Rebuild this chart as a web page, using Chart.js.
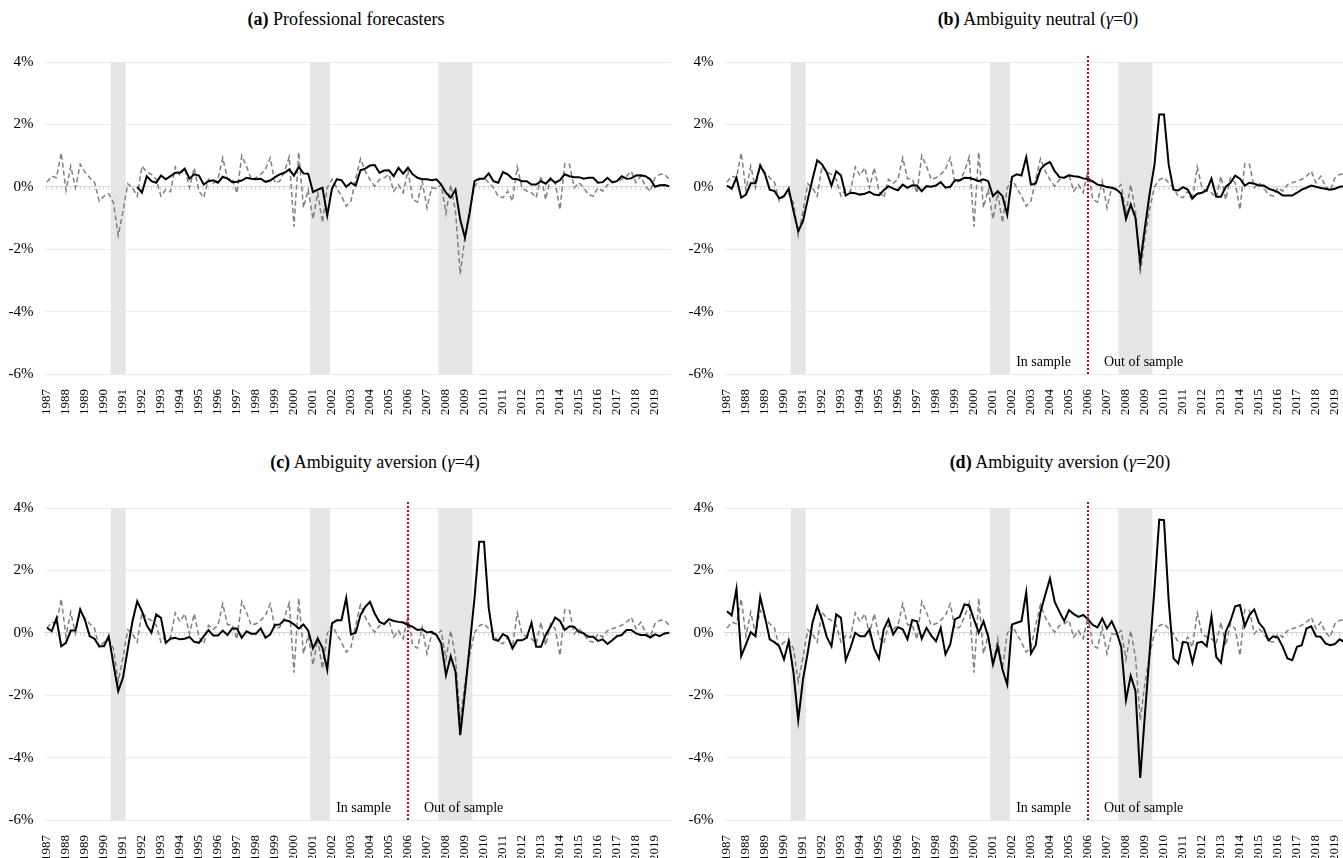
<!DOCTYPE html>
<html>
<head>
<meta charset="utf-8">
<script src="https://cdn.jsdelivr.net/npm/chart.js@4.4.1/dist/chart.umd.min.js"></script>
<style>
  body { margin: 0; width: 1343px; height: 858px; overflow: hidden; background: #fff; position: relative;
         font-family: 'Liberation Serif', 'Times New Roman', serif; }
  .title { position: absolute; width: 400px; text-align: center; font-size: 18px; color: #000; white-space: nowrap; }
  canvas { position: absolute; }
</style>
</head>
<body>
<div class="title" style="left:146px; top:9px"><b>(a)</b> Professional forecasters</div>
<div class="title" style="left:838px; top:9px"><b>(b)</b> Ambiguity neutral (<i>γ</i>=0)</div>
<div class="title" style="left:175px; top:452px"><b>(c)</b> Ambiguity aversion (<i>γ</i>=4)</div>
<div class="title" style="left:860px; top:452px"><b>(d)</b> Ambiguity aversion (<i>γ</i>=20)</div>
<canvas id="chartA" width="680" height="430" style="left:0; top:0"></canvas>
<canvas id="chartB" width="680" height="430" style="left:680px; top:0"></canvas>
<canvas id="chartC" width="680" height="430" style="left:0; top:446px"></canvas>
<canvas id="chartD" width="680" height="430" style="left:680px; top:446px"></canvas>
<script>
// tick labels: one per year, quarterly data 1987Q1 - 2019Q4
const years = ['1987', '1988', '1989', '1990', '1991', '1992', '1993', '1994', '1995', '1996', '1997',
  '1998', '1999', '2000', '2001', '2002', '2003', '2004', '2005', '2006', '2007', '2008', '2009',
  '2010', '2011', '2012', '2013', '2014', '2015', '2016', '2017', '2018', '2019'];
const quarters = years.flatMap(y => ['Q1', 'Q2', 'Q3', 'Q4'].map(q => y + ' ' + q));

// recessions (shaded), first and last quarter
const recessions = [['1990 Q3', '1991 Q1'], ['2001 Q1', '2001 Q4'], ['2007 Q4', '2009 Q2']];
const splitQuarter = '2006 Q1';

// realised growth (dashed, same in every panel), % per quarter
const realised = [0.15, 0.34, 0.29, 1.09, -0.11, 0.66, -0.03, 0.72, 0.47, 0.29, 0.15, -0.46,
  -0.30, -0.22, -0.51, -1.56, -0.80, 0.10, -0.03, -0.30, 0.66, 0.47, 0.40, 0.24,
  -0.30, -0.09, -0.16, 0.64, 0.36, 0.61, -0.03, 0.61, -0.14, -0.35, 0.24, 0.11,
  0.24, 0.93, 0.26, 0.26, -0.21, 1.00, 0.66, 0.24, 0.29, 0.40, 0.56, 0.93,
  0.13, 0.18, 0.50, 0.96, -1.28, 1.11, -0.67, -0.09, -1.03, -0.19, -1.15, -0.03,
  0.24, -0.03, -0.30, -0.62, -0.46, 0.25, 0.90, 0.50, 0.23, 0.02, 0.23, 0.29,
  0.40, -0.14, 0.07, -0.19, 0.53, -0.41, -0.49, 0.18, -0.67, -0.03, -0.06, 0.07,
  -0.85, 0.07, -0.78, -2.80, -1.60, -0.70, 0.00, 0.23, 0.29, 0.13, -0.03, -0.30,
  -0.35, -0.14, -0.46, 0.64, -0.03, -0.14, -0.19, -0.35, 0.34, -0.41, 0.29, 0.13,
  -0.73, 0.74, 0.72, -0.03, 0.13, -0.03, -0.25, -0.30, -0.03, -0.14, 0.07, 0.13,
  0.18, 0.24, 0.34, 0.50, 0.13, 0.34, 0.02, -0.14, 0.29, 0.40, 0.40, 0.24];

// (a) professional forecasters
const spf = [null, null, null, null, null, null, null, null, null, null, null, null,
  null, null, null, null, null, null, null, 0.00, -0.19, 0.34, 0.18, 0.13,
  0.36, 0.24, 0.34, 0.45, 0.45, 0.58, 0.26, 0.40, 0.36, 0.07, 0.18, 0.21,
  0.13, 0.32, 0.26, 0.15, 0.16, 0.20, 0.29, 0.26, 0.24, 0.26, 0.16, 0.20,
  0.31, 0.40, 0.45, 0.56, 0.36, 0.64, 0.43, 0.42, -0.17, -0.09, -0.03, -0.92,
  -0.06, 0.24, 0.21, 0.00, 0.13, 0.04, 0.53, 0.58, 0.68, 0.70, 0.45, 0.52,
  0.53, 0.34, 0.61, 0.42, 0.61, 0.40, 0.29, 0.24, 0.24, 0.21, 0.24, 0.07,
  -0.19, -0.35, -0.09, -1.05, -1.63, -0.83, 0.18, 0.26, 0.26, 0.43, 0.18, 0.13,
  0.47, 0.40, 0.26, 0.24, 0.18, 0.18, 0.07, 0.07, 0.18, 0.10, 0.26, 0.13,
  0.21, 0.40, 0.34, 0.31, 0.31, 0.26, 0.29, 0.29, 0.13, 0.15, 0.29, 0.15,
  0.18, 0.34, 0.26, 0.27, 0.36, 0.37, 0.34, 0.24, 0.00, 0.05, 0.06, 0.02];

// (b) ambiguity neutral, gamma = 0
const gamma0 = [0.04, -0.06, 0.29, -0.35, -0.25, 0.11, 0.11, 0.68, 0.40, -0.09, -0.14, -0.37,
  -0.30, -0.06, -0.78, -1.42, -1.10, -0.41, 0.24, 0.85, 0.72, 0.47, 0.04, 0.50,
  0.36, -0.28, -0.19, -0.21, -0.25, -0.22, -0.16, -0.25, -0.27, -0.11, 0.02, -0.06,
  -0.11, 0.07, -0.03, 0.05, 0.04, -0.14, 0.02, 0.00, 0.04, 0.15, -0.03, 0.00,
  0.21, 0.21, 0.29, 0.28, 0.24, 0.18, 0.24, 0.18, -0.30, -0.14, -0.30, -0.89,
  0.32, 0.40, 0.36, 0.95, 0.07, 0.11, 0.56, 0.72, 0.79, 0.50, 0.31, 0.29,
  0.37, 0.34, 0.32, 0.27, 0.24, 0.17, 0.07, 0.04, -0.01, -0.03, -0.09, -0.22,
  -1.03, -0.57, -0.99, -2.44, -1.30, -0.20, 0.70, 2.32, 2.32, 0.70, -0.09, -0.12,
  -0.01, -0.09, -0.37, -0.22, -0.19, -0.11, 0.26, -0.32, -0.32, 0.00, 0.13, 0.36,
  0.26, 0.04, 0.13, 0.10, 0.04, 0.04, -0.06, -0.11, -0.17, -0.28, -0.28, -0.28,
  -0.19, -0.09, -0.03, 0.04, 0.00, -0.04, -0.06, -0.09, -0.06, 0.00, 0.02, 0.04];

// (c) ambiguity aversion, gamma = 4
const gamma4 = [0.16, 0.05, 0.46, -0.43, -0.32, 0.07, 0.07, 0.75, 0.41, -0.11, -0.19, -0.43,
  -0.43, -0.11, -1.01, -1.87, -1.44, -0.53, 0.37, 1.01, 0.69, 0.24, 0.00, 0.59,
  0.48, -0.32, -0.19, -0.16, -0.21, -0.19, -0.13, -0.29, -0.32, -0.11, 0.09, -0.09,
  -0.09, 0.07, -0.07, 0.14, 0.14, -0.16, 0.05, -0.03, -0.03, 0.14, -0.16, -0.05,
  0.25, 0.27, 0.41, 0.37, 0.27, 0.13, 0.27, 0.07, -0.50, -0.18, -0.48, -1.18,
  0.30, 0.40, 0.40, 1.12, -0.05, 0.00, 0.57, 0.83, 0.99, 0.62, 0.35, 0.28,
  0.44, 0.38, 0.35, 0.33, 0.25, 0.19, 0.09, 0.11, 0.01, 0.03, -0.07, -0.34,
  -1.36, -0.75, -1.25, -3.28, -1.90, -0.40, 1.10, 2.92, 2.92, 0.80, -0.21, -0.26,
  -0.04, -0.13, -0.50, -0.24, -0.24, -0.16, 0.32, -0.45, -0.45, -0.07, 0.19, 0.49,
  0.38, 0.09, 0.21, 0.19, 0.03, -0.02, -0.13, -0.13, -0.26, -0.21, -0.36, -0.24,
  -0.11, -0.07, 0.09, 0.09, -0.02, -0.07, -0.07, -0.15, -0.05, -0.11, -0.02, 0.00];

// (d) ambiguity aversion, gamma = 20
const gamma20 = [0.69, 0.56, 1.41, -0.75, -0.37, 0.02, -0.11, 1.15, 0.51, -0.21, -0.30, -0.43,
  -0.85, -0.27, -1.28, -2.80, -1.50, -0.64, 0.32, 0.85, 0.43, -0.13, -0.43, 0.59,
  0.48, -0.88, -0.48, 0.00, -0.11, -0.11, 0.11, -0.51, -0.83, 0.11, 0.43, -0.05,
  0.18, 0.11, -0.21, 0.41, 0.37, -0.19, 0.16, -0.09, -0.27, 0.16, -0.69, -0.37,
  0.43, 0.51, 0.91, 0.88, 0.43, 0.00, 0.37, -0.13, -1.01, -0.43, -1.18, -1.66,
  0.27, 0.32, 0.37, 1.30, -0.66, -0.40, 0.67, 1.21, 1.74, 0.99, 0.67, 0.38,
  0.73, 0.60, 0.51, 0.57, 0.43, 0.25, 0.17, 0.46, 0.14, 0.37, 0.03, -0.45,
  -2.16, -1.38, -1.86, -4.65, -2.60, -0.60, 1.40, 3.63, 3.61, 1.00, -0.82, -0.98,
  -0.29, -0.32, -0.96, -0.32, -0.29, -0.43, 0.53, -0.77, -0.96, 0.03, 0.38, 0.85,
  0.89, 0.21, 0.57, 0.75, 0.32, 0.14, -0.24, -0.11, -0.15, -0.45, -0.82, -0.88,
  -0.45, -0.40, 0.14, 0.21, -0.11, -0.13, -0.34, -0.40, -0.36, -0.21, -0.30, -0.25];

const serif = 'Liberation Serif';

// floating bars covering the whole y range in recession quarters
const recessionBars = quarters.map((q, i) =>
  recessions.some(([a, b]) => i >= quarters.indexOf(a) && i <= quarters.indexOf(b)) ? [-6, 4] : null);

// red dotted line at the sample split, with labels
const splitPlugin = {
  id: 'split',
  afterDatasetsDraw(chart, args, opts) {
    const {ctx, chartArea, scales} = chart;
    const x = scales.x.getPixelForValue(quarters.indexOf(opts.at));
    ctx.save();
    ctx.strokeStyle = '#c00000';
    ctx.lineWidth = 2;
    ctx.setLineDash([2, 2]);
    ctx.beginPath();
    ctx.moveTo(x, chartArea.top - 6);
    ctx.lineTo(x, chartArea.bottom);
    ctx.stroke();
    ctx.font = '14px "' + serif + '"';
    ctx.fillStyle = '#000';
    const y = chartArea.bottom - 8;
    ctx.textAlign = 'right';
    ctx.fillText('In sample', x - 17, y);
    ctx.textAlign = 'left';
    ctx.fillText('Out of sample', x + 16, y);
    ctx.restore();
  }
};

function panel(id, forecast, split) {
  new Chart(document.getElementById(id), {
    type: 'line',
    plugins: [splitPlugin],
    data: {
      labels: quarters,
      datasets: [
        { label: 'Forecast', data: forecast, borderColor: '#000', borderWidth: 2, pointRadius: 0, order: 1 },
        { label: 'Realised', data: realised, borderColor: '#7f7f7f', borderWidth: 1.5, borderDash: [5, 3], pointRadius: 0, order: 2 },
        { type: 'bar', label: 'Recession', data: recessionBars, backgroundColor: '#e5e5e5', borderWidth: 0,
          barPercentage: 1, categoryPercentage: 1, order: 3 }
      ]
    },
    options: {
      responsive: false,
      animation: false,
      devicePixelRatio: 1,
      layout: { padding: { top: 62, right: 8.4, bottom: 0, left: 0 } },
      plugins: {
        legend: { display: false },
        tooltip: { enabled: false },
        split: split ? { at: splitQuarter } : false
      },
      scales: {
        x: {
          type: 'category', offset: true,
          grid: { display: false },
          border: { display: false },
          ticks: {
            autoSkip: false, minRotation: 90, maxRotation: 90, padding: 7, color: '#000',
            font: { family: serif, size: 13 },
            callback: (v, i) => i % 4 === 0 ? years[i / 4] : ''
          },
          afterFit: s => { s.height = 56; s.paddingLeft = 0; s.paddingRight = 0; }
        },
        x0: {
          type: 'category', axis: 'x', position: { y: 0 }, offset: true,
          grid: { display: true, drawOnChartArea: false, drawTicks: true, tickLength: 3, color: '#d9d9d9', offset: false },
          border: { display: true, color: '#d9d9d9', width: 1 },
          ticks: { display: false, autoSkip: false }
        },
        y: {
          min: -6, max: 4,
          grid: { color: '#ebebeb', drawTicks: false },
          border: { display: false },
          ticks: { stepSize: 2, padding: 11, color: '#000', font: { family: serif, size: 15 }, callback: v => v + '%' },
          afterFit: s => { s.width = 44.6; }
        }
      }
    }
  });
}

panel('chartA', spf, false);
panel('chartB', gamma0, true);
panel('chartC', gamma4, true);
panel('chartD', gamma20, true);
</script>
</body>
</html>
